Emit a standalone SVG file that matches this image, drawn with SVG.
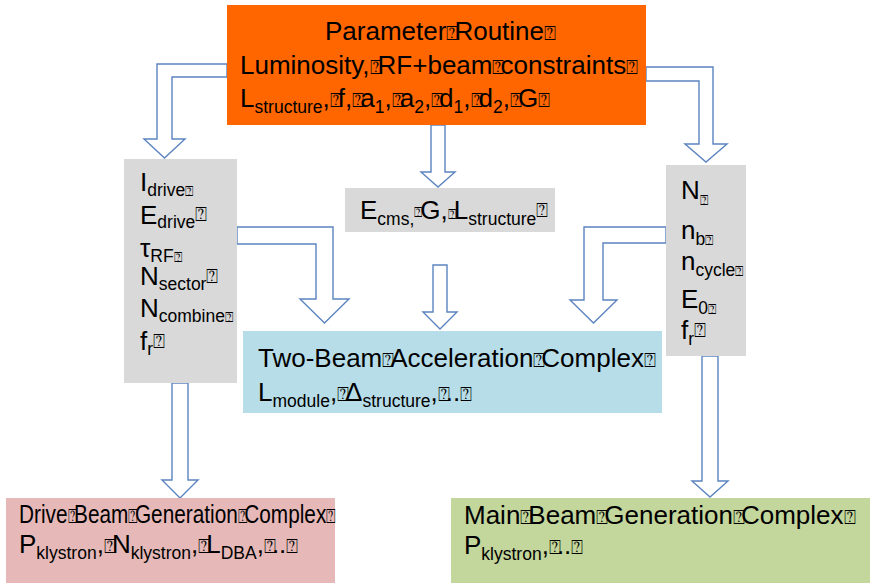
<svg xmlns="http://www.w3.org/2000/svg" width="877" height="583" viewBox="0 0 877 583">
<style>
text{font-family:"Liberation Sans",Arial,sans-serif;font-size:26px;fill:#000}
.s{font-size:17.5px}
.t{font-family:"DejaVu Sans","Liberation Sans",sans-serif;font-size:20px;letter-spacing:-4px}
.ts{font-family:"DejaVu Sans","Liberation Sans",sans-serif;font-size:14px;letter-spacing:-2px}
.arrow{fill:#fff;stroke:#5b84c0;stroke-width:1.4;stroke-linejoin:miter}
</style>
<rect width="877" height="583" fill="#fff"/>
<g id="connectors">
<path class="arrow" d="M227,64 H157 V139 H144 L164.5,158 L185,139 H172 V77 H227 Z"/>
<path class="arrow" d="M431,125 H445 V172 H455 L438,187 L421,172 H431 Z"/>
<path class="arrow" d="M646,67 H713 V144 H727 L706,162 L685,144 H699 V81 H646 Z"/>
<path class="arrow" d="M237,227 H333 V299 H349 L324.5,323 L300,299 H316 V244 H237 Z"/>
<path class="arrow" d="M433,265 H447 V312 H457 L440,329 L423,312 H433 Z"/>
<path class="arrow" d="M666,227 H584 V300 H570 L593.5,323 L617,300 H603 V243 H666 Z"/>
<path class="arrow" d="M172,383 H188 V480 H198 L180,498 L162,480 H172 Z"/>
<path class="arrow" d="M702,356 H718 V481 H728 L710,497 L692,481 H702 Z"/>
</g>
<g id="parameter-routine">
<rect x="227" y="5" width="419" height="120" fill="#ff6600"/>
<text x="325" y="40">Parameter<tspan class="t">⍰</tspan>Routine<tspan class="t">⍰</tspan></text>
<text x="240" y="74">Luminosity,<tspan class="t">⍰</tspan>RF+beam<tspan class="t">⍰</tspan>constraints<tspan class="t">⍰</tspan></text>
<text x="240" y="107">L<tspan class="s" dy="6">structure</tspan><tspan dy="-6">,</tspan><tspan class="t">⍰</tspan>f,<tspan class="t">⍰</tspan>a<tspan class="s" dy="6">1</tspan><tspan dy="-6">,</tspan><tspan class="t">⍰</tspan>a<tspan class="s" dy="6">2</tspan><tspan dy="-6">,</tspan><tspan class="t">⍰</tspan>d<tspan class="s" dy="6">1</tspan><tspan dy="-6">,</tspan><tspan class="t">⍰</tspan>d<tspan class="s" dy="6">2</tspan><tspan dy="-6">,</tspan><tspan class="t">⍰</tspan>G<tspan class="t">⍰</tspan></text>
</g>
<g id="drive-parameters">
<rect x="124" y="159" width="113" height="224" fill="#d9d9d9"/>
<text x="140" y="191">I<tspan class="s" dy="5">drive</tspan><tspan class="ts">⍰</tspan></text>
<text x="140" y="224">E<tspan class="s" dy="4">drive</tspan><tspan class="t" dy="-7">⍰</tspan></text>
<text x="140" y="257">τ<tspan class="s" dy="5">RF</tspan><tspan class="ts">⍰</tspan></text>
<text x="140" y="285">N<tspan class="s" dy="5">sector</tspan><tspan class="t" dy="-7">⍰</tspan></text>
<text x="140" y="317">N<tspan class="s" dy="5">combine</tspan><tspan class="ts">⍰</tspan></text>
<text x="140" y="350">f<tspan class="s" dy="5">r</tspan><tspan class="t" dy="-7">⍰</tspan></text>
</g>
<g id="cms-parameters">
<rect x="345" y="188" width="210" height="44" fill="#d9d9d9"/>
<text x="360" y="219">E<tspan class="s" dy="6">cms,</tspan><tspan class="ts" dy="-8">⍰</tspan><tspan dy="2">G,</tspan><tspan class="ts">⍰</tspan>L<tspan class="s" dy="6">structure</tspan><tspan class="t" dy="-8">⍰</tspan></text>
</g>
<g id="main-parameters">
<rect x="666" y="165" width="80" height="191" fill="#d9d9d9"/>
<text x="681" y="199">N<tspan class="ts" dy="6">⍰</tspan></text>
<text x="681" y="239">n<tspan class="s" dy="6">b</tspan><tspan class="ts">⍰</tspan></text>
<text x="681" y="270">n<tspan class="s" dy="6">cycle</tspan><tspan class="ts">⍰</tspan></text>
<text x="681" y="308">E<tspan class="s" dy="6">0</tspan><tspan class="ts">⍰</tspan></text>
<text x="681" y="339">f<tspan class="s" dy="6">r</tspan><tspan class="t" dy="-8">⍰</tspan></text>
</g>
<g id="two-beam-acceleration-complex">
<rect x="243" y="331" width="419" height="82" fill="#b7dde8"/>
<text x="258" y="367">Two-Beam<tspan class="t">⍰</tspan>Acceleration<tspan class="t">⍰</tspan>Complex<tspan class="t">⍰</tspan></text>
<text x="258" y="401">L<tspan class="s" dy="6">module</tspan><tspan dy="-6">,</tspan><tspan class="t">⍰</tspan>Δ<tspan class="s" dy="6">structure</tspan><tspan dy="-6">,</tspan><tspan class="t">⍰</tspan>..<tspan class="t">⍰</tspan></text>
</g>
<g id="drive-beam-generation-complex">
<rect x="6" y="498" width="329" height="85" fill="#e6b9b8"/>
<text transform="translate(19,523) scale(0.8,1)" font-size="24">Drive<tspan class="t">⍰</tspan>Beam<tspan class="t">⍰</tspan>Generation<tspan class="t">⍰</tspan>Complex<tspan class="t">⍰</tspan></text>
<text x="19" y="553">P<tspan class="s" dy="6">klystron</tspan><tspan dy="-6">,</tspan><tspan class="t">⍰</tspan>N<tspan class="s" dy="6">klystron</tspan><tspan dy="-6">,</tspan><tspan class="t">⍰</tspan>L<tspan class="s" dy="6">DBA</tspan><tspan dy="-6">,</tspan><tspan class="t">⍰</tspan>..<tspan class="t">⍰</tspan></text>
</g>
<g id="main-beam-generation-complex">
<rect x="451" y="498" width="419" height="85" fill="#c3d69b"/>
<text x="464" y="524">Main<tspan class="t">⍰</tspan>Beam<tspan class="t">⍰</tspan>Generation<tspan class="t">⍰</tspan>Complex<tspan class="t">⍰</tspan></text>
<text x="464" y="554">P<tspan class="s" dy="6">klystron</tspan><tspan dy="-6">,</tspan><tspan class="t">⍰</tspan>..<tspan class="t">⍰</tspan></text>
</g>
</svg>
